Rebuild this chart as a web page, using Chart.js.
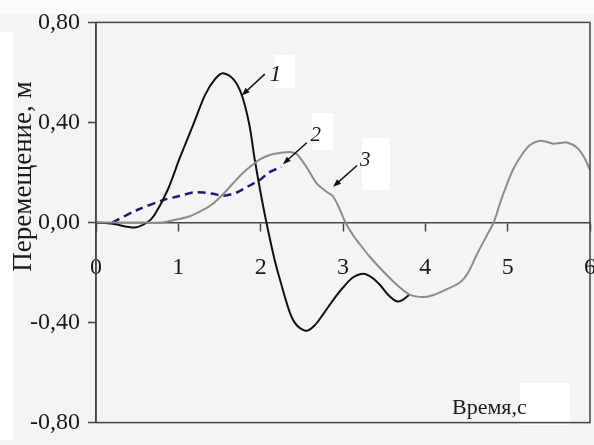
<!DOCTYPE html>
<html>
<head>
<meta charset="utf-8">
<script src="https://cdn.jsdelivr.net/npm/chart.js@4.4.0/dist/chart.umd.min.js"></script>
<style>
  html, body { margin: 0; padding: 0; background: #f4f4f4; }
</style>
</head>
<body>
<canvas id="chart" width="594" height="445"></canvas>
<script>
// ====== DATA ======
// curve 1 (black)
const time1 = [0, 0.2, 0.47, 0.62, 0.71, 0.87, 1.02, 1.18, 1.325, 1.445, 1.54, 1.668, 1.77, 1.863, 1.924, 1.993, 2.07, 2.17, 2.24, 2.36, 2.45, 2.56, 2.66, 2.76, 2.88, 3.0, 3.12, 3.25, 3.35, 3.45, 3.55, 3.65, 3.72, 3.8];
const disp1 = [0, -0.005, -0.02, 0, 0.03, 0.13, 0.26, 0.39, 0.51, 0.573, 0.597, 0.573, 0.51, 0.39, 0.26, 0.13, 0, -0.15, -0.235, -0.365, -0.415, -0.433, -0.41, -0.366, -0.31, -0.26, -0.22, -0.205, -0.22, -0.25, -0.29, -0.315, -0.31, -0.29];

// curve 2 (blue dashed)
const time2 = [0.2, 0.5, 0.82, 1.0, 1.18, 1.3, 1.42, 1.55, 1.71, 1.85, 1.99, 2.1, 2.25];
const disp2 = [0, 0.05, 0.09, 0.105, 0.12, 0.12, 0.115, 0.107, 0.12, 0.145, 0.17, 0.2, 0.222];

// curve 3 (gray)
const time3 = [0, 0.5, 0.8, 0.98, 1.14, 1.3, 1.42, 1.55, 1.66, 1.79, 1.91, 1.99, 2.11, 2.27, 2.36, 2.44, 2.56, 2.68, 2.8, 2.88, 2.96, 3.03, 3.12, 3.2, 3.32, 3.49, 3.65, 3.81, 3.98, 4.1, 4.25, 4.42, 4.52, 4.63, 4.75, 4.83, 4.91, 5.0, 5.07, 5.17, 5.27, 5.39, 5.48, 5.56, 5.64, 5.72, 5.84, 5.93, 6.0];
const disp3 = [0, 0, 0, 0.012, 0.025, 0.05, 0.075, 0.115, 0.155, 0.2, 0.233, 0.252, 0.27, 0.28, 0.282, 0.273, 0.22, 0.156, 0.123, 0.104, 0.053, 0, -0.05, -0.085, -0.135, -0.196, -0.248, -0.288, -0.298, -0.29, -0.268, -0.24, -0.2, -0.125, -0.05, 0, 0.08, 0.16, 0.215, 0.27, 0.31, 0.327, 0.322, 0.315, 0.318, 0.32, 0.3, 0.26, 0.21];

const xTicks = [0, 1, 2, 3, 4, 5, 6];
const yTicks = [-0.8, -0.4, 0, 0.4, 0.8];
const curveNames = ['1', '2', '3'];
const yTitle = 'Перемещение, м';
const xTitle = 'Время,с';

const toPoints = (xs, ys) => xs.map((x, i) => ({ x: x, y: ys[i] }));

const serif = '"Liberation Serif", "Times New Roman", serif';

// ====== DECORATION: background, frame, titles, curve labels ======
const decor = {
    id: 'decor',
    beforeDraw(chart) {
        const { ctx } = chart;
        ctx.save();
        ctx.fillStyle = '#f4f4f4';
        ctx.fillRect(0, 0, chart.width, chart.height);
        ctx.fillStyle = '#fbfbfb';
        ctx.fillRect(0, 0, chart.width, 14);
        ctx.fillStyle = '#ffffff';
        ctx.fillRect(0, 32, 13, 408);
        // white patches behind the labels (as in the scan)
        ctx.fillRect(275, 55, 20, 33);
        ctx.fillRect(312, 113, 21, 37);
        ctx.fillRect(362, 138, 28, 52);
        ctx.fillRect(520, 383, 50, 42);
        ctx.restore();
    },
    afterDraw(chart) {
        const { ctx, chartArea: a } = chart;
        const sx = chart.scales.x, sy = chart.scales.y;
        const px = v => sx.getPixelForValue(v);
        const py = v => sy.getPixelForValue(v);

        ctx.save();
        // frame
        ctx.strokeStyle = '#444';
        ctx.lineWidth = 1.5;
        ctx.strokeRect(a.left, a.top, a.right - a.left, a.bottom - a.top);

        // y title
        ctx.fillStyle = '#1a1a1a';
        ctx.save();
        ctx.translate(24, 176.5);
        ctx.rotate(-Math.PI / 2);
        ctx.font = '27px ' + serif;
        ctx.textAlign = 'center';
        ctx.textBaseline = 'middle';
        ctx.fillText(yTitle, 0, 0);
        ctx.restore();

        // x title
        ctx.font = '22px ' + serif;
        ctx.textAlign = 'left';
        ctx.textBaseline = 'alphabetic';
        ctx.fillText(xTitle, 452, 414);

        // curve labels with arrows (data units)
        const labelAt = [[2.18, 0.59], [2.67, 0.346], [3.27, 0.248]];
        const arrows = [
            [[2.05, 0.593], [1.77, 0.508]],
            [[2.56, 0.319], [2.27, 0.233]],
            [[3.17, 0.228], [2.88, 0.143]]
        ];
        const sizes = [24, 21, 21];
        ctx.textAlign = 'center';
        ctx.textBaseline = 'middle';
        curveNames.forEach((name, i) => {
            ctx.fillStyle = '#1a1a1a';
            ctx.font = 'italic ' + sizes[i] + 'px ' + serif;
            ctx.fillText(name, px(labelAt[i][0]), py(labelAt[i][1]));

            const x1 = px(arrows[i][0][0]), y1 = py(arrows[i][0][1]);
            const x2 = px(arrows[i][1][0]), y2 = py(arrows[i][1][1]);
            const ang = Math.atan2(y2 - y1, x2 - x1);
            ctx.strokeStyle = '#111';
            ctx.lineWidth = 1.5;
            ctx.beginPath();
            ctx.moveTo(x1, y1);
            ctx.lineTo(x2 - 4 * Math.cos(ang), y2 - 4 * Math.sin(ang));
            ctx.stroke();
            ctx.beginPath();
            ctx.moveTo(x2, y2);
            ctx.lineTo(x2 - 8 * Math.cos(ang) + 3 * Math.sin(ang), y2 - 8 * Math.sin(ang) - 3 * Math.cos(ang));
            ctx.lineTo(x2 - 8 * Math.cos(ang) - 3 * Math.sin(ang), y2 - 8 * Math.sin(ang) + 3 * Math.cos(ang));
            ctx.closePath();
            ctx.fillStyle = '#111';
            ctx.fill();
        });
        ctx.restore();
    }
};

// ====== CHART ======
const ctx = document.getElementById('chart');
new Chart(ctx, {
    type: 'line',
    data: {
        datasets: [
            {
                label: curveNames[2],
                data: toPoints(time3, disp3),
                borderColor: '#8c8c8c',
                borderWidth: 2,
                tension: 0.3,
                pointRadius: 0,
                fill: false
            },
            {
                label: curveNames[0],
                data: toPoints(time1, disp1),
                borderColor: '#111111',
                borderWidth: 2,
                tension: 0.3,
                pointRadius: 0,
                fill: false
            },
            {
                label: curveNames[1],
                data: toPoints(time2, disp2),
                borderColor: '#1c1c78',
                borderWidth: 2.5,
                borderDash: [8, 5],
                tension: 0.3,
                pointRadius: 0,
                fill: false
            }
        ]
    },
    options: {
        responsive: false,
        animation: false,
        layout: { padding: { left: 0, right: 4, top: 22, bottom: 14 } },
        plugins: {
            legend: { display: false },
            tooltip: { enabled: false }
        },
        scales: {
            x: {
                type: 'linear',
                min: 0,
                max: 6,
                position: { y: 0 },
                afterBuildTicks: s => { s.ticks = xTicks.map(v => ({ value: v })); },
                afterFit: s => { s.paddingLeft = 0; s.paddingRight = 0; },
                grid: { drawOnChartArea: false, tickLength: 8, tickColor: '#444', tickWidth: 1.5 },
                border: { color: '#444', width: 1.5 },
                ticks: {
                    padding: 23,
                    color: '#1a1a1a',
                    maxRotation: 0,
                    autoSkip: false,
                    font: { family: serif, size: 24 },
                    callback: v => String(v)
                }
            },
            y: {
                type: 'linear',
                min: -0.8,
                max: 0.8,
                afterBuildTicks: s => { s.ticks = yTicks.map(v => ({ value: v })); },
                afterFit: s => { s.width = 96; },
                grid: { drawOnChartArea: false, tickLength: 8, tickColor: '#444', tickWidth: 1.5 },
                border: { color: '#444', width: 1.5 },
                ticks: {
                    padding: 8,
                    color: '#1a1a1a',
                    font: { family: serif, size: 24 },
                    callback: v => v.toFixed(2).replace('.', ',')
                }
            }
        }
    },
    plugins: [decor]
});
</script>
</body>
</html>
